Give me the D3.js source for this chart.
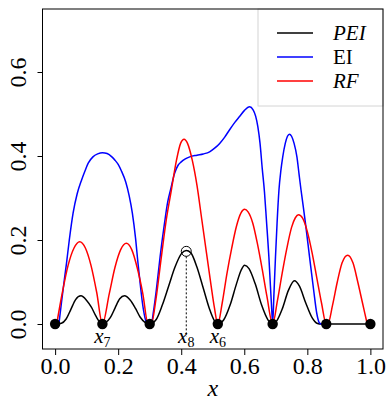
<!DOCTYPE html>
<html>
<head>
<meta charset="utf-8">
<script src="https://d3js.org/d3.v7.min.js"></script>
</head>
<body style="margin:0">
<svg width="387" height="403" style="font-family: 'Liberation Serif'"></svg>
<script>

// design points and the three acquisition curves
var designX = [0, 0.15, 0.30, 0.516, 0.69, 0.86, 1.0];
var newX = 0.416, newY = 0.173;
var pointLabels = [
    {x: 0.15, base: "x", sub: "7"},
    {x: 0.416, base: "x", sub: "8"},
    {x: 0.516, base: "x", sub: "6"}
];

var pei = [
    [0,0],[0.02,0.002],[0.035,0.012],[0.05,0.035],[0.065,0.058],[0.082,0.067],[0.10,0.056],[0.115,0.04],[0.13,0.018],[0.14,0.006],[0.15,0],
    [0.16,0.003],[0.175,0.015],[0.19,0.038],[0.205,0.06],[0.22,0.067],[0.238,0.057],[0.255,0.037],[0.27,0.016],[0.285,0.004],[0.30,0],
    [0.32,0.01],[0.34,0.045],[0.36,0.09],[0.38,0.135],[0.40,0.167],[0.416,0.175],[0.43,0.17],[0.45,0.135],[0.47,0.085],[0.49,0.035],[0.505,0.008],[0.516,0],
    [0.535,0.01],[0.555,0.045],[0.575,0.095],[0.59,0.128],[0.601,0.14],[0.615,0.132],[0.635,0.095],[0.655,0.045],[0.675,0.01],[0.69,0],
    [0.705,0.01],[0.72,0.035],[0.74,0.08],[0.759,0.103],[0.775,0.09],[0.795,0.05],[0.815,0.015],[0.83,0.002],[0.845,0],[0.86,0],[1.0,0]
];

var ei = [
    [0.012,0],[0.02,0.05],[0.03,0.11],[0.036,0.144],[0.045,0.2],[0.057,0.264],[0.07,0.31],[0.084,0.343],[0.095,0.365],[0.105,0.383],
    [0.12,0.398],[0.135,0.405],[0.15,0.408],[0.165,0.406],[0.18,0.398],[0.19,0.39],[0.2,0.38],[0.21,0.365],[0.224,0.338],[0.235,0.305],
    [0.245,0.264],[0.255,0.205],[0.263,0.144],[0.27,0.095],[0.277,0.05],[0.285,0.015],[0.292,0],[0.305,0],
    [0.312,0.03],[0.321,0.081],[0.333,0.16],[0.347,0.24],[0.357,0.29],[0.366,0.319],[0.379,0.359],[0.39,0.378],[0.40,0.386],
    [0.413,0.393],[0.427,0.398],[0.45,0.402],[0.47,0.405],[0.49,0.41],[0.505,0.418],[0.522,0.43],[0.538,0.445],[0.553,0.462],
    [0.57,0.48],[0.585,0.494],[0.6,0.508],[0.617,0.517],[0.628,0.51],[0.636,0.495],[0.643,0.47],[0.65,0.43],[0.657,0.37],
    [0.664,0.315],[0.67,0.25],[0.678,0.16],[0.683,0.09],[0.687,0.035],[0.69,0],
    [0.694,0.07],[0.699,0.16],[0.704,0.24],[0.71,0.319],[0.716,0.365],[0.722,0.398],[0.73,0.43],[0.737,0.447],[0.743,0.452],
    [0.75,0.447],[0.758,0.43],[0.767,0.398],[0.774,0.355],[0.78,0.319],[0.787,0.28],[0.794,0.24],[0.807,0.16],[0.82,0.081],
    [0.83,0.025],[0.838,0.003],[0.845,0],[0.86,0]
];

var rf = [
    [0.005,0],[0.023,0.075],[0.041,0.139],[0.06,0.181],[0.078,0.196],[0.096,0.181],[0.114,0.139],[0.132,0.075],[0.15,0],
    [0.172,0.073],[0.19,0.135],[0.208,0.177],[0.226,0.192],[0.243,0.177],[0.26,0.135],[0.278,0.073],[0.295,0],[0.305,0],
    [0.32,0.06],[0.337,0.16],[0.353,0.25],[0.369,0.32],[0.385,0.39],[0.398,0.43],[0.409,0.44],[0.42,0.43],[0.435,0.39],
    [0.45,0.33],[0.465,0.25],[0.48,0.17],[0.495,0.09],[0.505,0.04],[0.516,0],
    [0.53,0.05],[0.545,0.12],[0.56,0.18],[0.575,0.232],[0.59,0.265],[0.601,0.273],[0.612,0.267],[0.627,0.24],[0.642,0.19],
    [0.657,0.13],[0.672,0.065],[0.69,0],
    [0.705,0.055],[0.72,0.12],[0.735,0.18],[0.75,0.23],[0.762,0.253],[0.772,0.26],[0.785,0.252],[0.8,0.22],[0.815,0.17],
    [0.83,0.11],[0.845,0.05],[0.86,0],
    [0.865,0],[0.88,0.045],[0.895,0.1],[0.91,0.145],[0.928,0.164],[0.945,0.145],[0.96,0.1],[0.975,0.05],[0.99,0]
];

var xTicks = [0, 0.2, 0.4, 0.6, 0.8, 1.0];
var yTicks = [0, 0.2, 0.4, 0.6];
var legendNames = ["PEI", "EI", "RF"];
var legendItalic = [true, false, true];
var legendColors = ["#000000", "#0000ff", "#ff0000"];

var svg = d3.select("svg"),
    box = {left: 42.5, right: 383, top: 9, bottom: 349};

var x = d3.scaleLinear().domain([-0.04, 1.04]).range([box.left, box.right]),
    y = d3.scaleLinear().domain([-0.0595, 0.75]).range([box.bottom, box.top]);

var line = d3.line()
    .x(function(d) { return x(d[0]); })
    .y(function(d) { return y(d[1]); })
    .curve(d3.curveMonotoneX);

// curves
[pei, ei, rf].forEach(function(s, i) {
    svg.append("path")
        .datum(s)
        .attr("fill", "none")
        .attr("stroke", legendColors[i])
        .attr("stroke-width", 1.5)
        .attr("d", line);
});

// dashed drop line to the new point
svg.append("line")
    .attr("x1", x(newX)).attr("x2", x(newX))
    .attr("y1", y(newY) + 5).attr("y2", y(-0.03))
    .attr("stroke", "#000")
    .attr("stroke-width", 1)
    .attr("stroke-dasharray", "2,2");

svg.append("circle")
    .attr("cx", x(newX)).attr("cy", y(newY)).attr("r", 5)
    .attr("fill", "none").attr("stroke", "#000").attr("stroke-width", 1);

svg.selectAll(".pt")
    .data(designX)
    .enter().append("circle")
    .attr("class", "pt")
    .attr("cx", function(d) { return x(d); })
    .attr("cy", y(0))
    .attr("r", 5.2)
    .attr("fill", "#000");

// labels under points
var lab = svg.selectAll(".plab")
    .data(pointLabels)
    .enter().append("text")
    .attr("class", "plab")
    .attr("x", function(d) { return x(d.x); })
    .attr("y", 343)
    .attr("text-anchor", "middle")
    .style("font-family", "'Liberation Serif'")
    .style("font-size", "21px")
    .style("font-style", "italic");
lab.append("tspan").text(function(d) { return d.base; });
lab.append("tspan").attr("dy", 4).style("font-size", "14px").style("font-style", "normal")
    .text(function(d) { return d.sub; });

// legend
var leg = svg.append("g");
leg.append("rect")
    .attr("x", 258).attr("y", box.top)
    .attr("width", box.right - 258).attr("height", 97)
    .attr("fill", "#fff").attr("stroke", "#d4d4d4").attr("stroke-width", 1);
legendNames.forEach(function(n, i) {
    var ly = 33 + i * 24;
    leg.append("line")
        .attr("x1", 277).attr("x2", 313)
        .attr("y1", ly).attr("y2", ly)
        .attr("stroke", legendColors[i]).attr("stroke-width", 1.5);
    leg.append("text")
        .attr("x", 333).attr("y", ly + 7)
        .style("font-family", "'Liberation Serif'")
        .style("font-size", "21px")
        .style("font-style", legendItalic[i] ? "italic" : "normal")
        .text(n);
});

// plot box
svg.append("rect")
    .attr("x", box.left).attr("y", box.top)
    .attr("width", box.right - box.left).attr("height", box.bottom - box.top)
    .attr("fill", "none").attr("stroke", "#000").attr("stroke-width", 1);

// x axis
var xAxis = svg.append("g")
    .attr("transform", "translate(0," + box.bottom + ")")
    .call(d3.axisBottom(x).tickValues(xTicks).tickSize(6).tickFormat(d3.format(".1f")));
xAxis.attr("font-family", null).attr("font-size", null);
xAxis.select(".domain").remove();
xAxis.selectAll("text")
    .style("font-family", "'Liberation Serif'")
    .style("font-size", "24px")
    .attr("dy", 0).attr("y", 24.5)
    .attr("fill", "#000");

// y axis
var yAxis = svg.append("g")
    .attr("transform", "translate(" + box.left + ",0)")
    .call(d3.axisLeft(y).tickValues(yTicks).tickSize(5).tickFormat(d3.format(".1f")));
yAxis.attr("font-family", null).attr("font-size", null);
yAxis.select(".domain").remove();
yAxis.selectAll("text")
    .style("font-family", "'Liberation Serif'")
    .style("font-size", "24px")
    .attr("x", null).attr("dy", 0)
    .attr("text-anchor", "middle")
    .attr("transform", "translate(-17,0) rotate(-90)")
    .attr("fill", "#000");

svg.append("text")
    .attr("x", (box.left + box.right) / 2).attr("y", 396)
    .attr("text-anchor", "middle")
    .style("font-family", "'Liberation Serif'")
    .style("font-size", "24px")
    .style("font-style", "italic")
    .text("x");

</script>
</body>
</html>
